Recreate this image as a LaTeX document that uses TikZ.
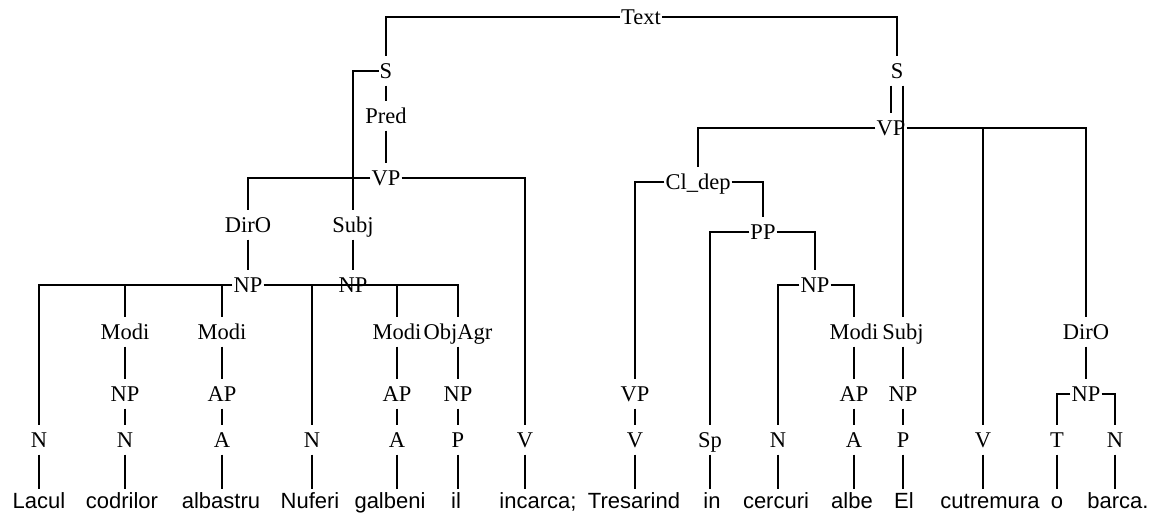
\documentclass[tikz,border=0pt]{standalone}
\usepackage{fontspec}
\newfontfamily\catfont{Liberation Serif}
\newfontfamily\wordfont{Liberation Sans}
\usepackage{tikz}
\tikzset{
	treecat/.style={font=\catfont\fontsize{22.5}{24}\selectfont,inner xsep=1pt,inner ysep=7pt,text height=15pt,text depth=0pt},
	treeword/.style={font=\wordfont\fontsize{22}{24}\selectfont,inner xsep=1pt,inner ysep=3pt,text height=16pt,text depth=0pt},
	treeedge/.style={draw=black,line width=1.2pt}
}
\begin{document}
\begin{tikzpicture}[x=1pt,y=-1pt]
	\useasboundingbox (0,0) rectangle (1153,516);
	\node[treecat] (t) at (641,17) {Text};
	\node[treecat] (sl) at (386,71) {S};
	\node[treecat] (sr) at (897,71) {S};
	\node[treecat] (pr) at (386,116) {Pred};
	\node[treecat] (vpl) at (386,178) {VP};
	\node[treecat] (dol) at (248,225) {DirO};
	\node[treecat] (sjl) at (353,225) {Subj};
	\node[treecat] (npa) at (248,285) {NP};
	\node[treecat] (npb) at (353,285) {NP};
	\node[treecat] (mda) at (125,332) {Modi};
	\node[treecat] (mdb) at (222,332) {Modi};
	\node[treecat] (mdc) at (397,332) {Modi};
	\node[treecat] (oa) at (458,332) {ObjAgr};
	\node[treecat] (npc) at (125,394) {NP};
	\node[treecat] (apa) at (222,394) {AP};
	\node[treecat] (apb) at (397,394) {AP};
	\node[treecat] (npd) at (458,394) {NP};
	\node[treecat] (na) at (39,440) {N};
	\node[treecat] (nb) at (125,440) {N};
	\node[treecat] (aa) at (222,440) {A};
	\node[treecat] (nc) at (312,440) {N};
	\node[treecat] (ab) at (397,440) {A};
	\node[treecat] (pa) at (458,440) {P};
	\node[treecat] (va) at (525,440) {V};
	\node[treecat] (vpr) at (891,128) {VP};
	\node[treecat] (cd) at (698,182) {Cl\_dep};
	\node[treecat] (pp) at (763,232) {PP};
	\node[treecat] (npe) at (815,285) {NP};
	\node[treecat] (mdd) at (854,332) {Modi};
	\node[treecat] (sjr) at (903,332) {Subj};
	\node[treecat] (dor) at (1086,332) {DirO};
	\node[treecat] (vpt) at (635,394) {VP};
	\node[treecat] (apc) at (854,394) {AP};
	\node[treecat] (npf) at (903,394) {NP};
	\node[treecat] (npg) at (1086,394) {NP};
	\node[treecat] (vb) at (635,440) {V};
	\node[treecat] (sp) at (710,440) {Sp};
	\node[treecat] (nd) at (778,440) {N};
	\node[treecat] (ac) at (854,440) {A};
	\node[treecat] (pb) at (903,440) {P};
	\node[treecat] (vc) at (983,440) {V};
	\node[treecat] (ta) at (1057,440) {T};
	\node[treecat] (ne) at (1115,440) {N};
	\node[treeword] (wa) at (39,500) {Lacul};
	\node[treeword] (wb) at (122,500) {codrilor};
	\node[treeword] (wc) at (221,500) {albastru};
	\node[treeword] (wd) at (310,500) {Nuferi};
	\node[treeword] (we) at (390,500) {galbeni};
	\node[treeword] (wf) at (456,500) {il};
	\node[treeword] (wg) at (538,500) {incarca;};
	\node[treeword] (wh) at (634,500) {Tresarind};
	\node[treeword] (wi) at (712,500) {in};
	\node[treeword] (wj) at (776,500) {cercuri};
	\node[treeword] (wk) at (852,500) {albe};
	\node[treeword] (wl) at (904,500) {El};
	\node[treeword] (wm) at (990,500) {cutremura};
	\node[treeword] (wn) at (1057,500) {o};
	\node[treeword] (wo) at (1118,500) {barca.};
	\draw[treeedge] (t.west) -| (sl) (t.east) -| (sr);
	\draw[treeedge] (sl) -- (pr) (pr) -- (vpl) (sl.west) -| (sjl);
	\draw[treeedge] (vpl.west) -| (dol) (vpl.east) -| (va) (dol) -- (npa) (sjl) -- (npb);
	\draw[treeedge] (npa.west) -| (na) (npa.west) -| (mda) (npa.west) -| (mdb) (npa.east) -| (oa);
	\draw[treeedge] (npb.west) -| (nc) (npb.east) -| (mdc);
	\draw[treeedge] (mda) -- (npc) (npc) -- (nb) (mdb) -- (apa) (apa) -- (aa);
	\draw[treeedge] (mdc) -- (apb) (apb) -- (ab) (oa) -- (npd) (npd) -- (pa);
	\draw[treeedge] (sr.south -| vpr) -- (vpr) (sr.south -| sjr) -- (sjr);
	\draw[treeedge] (vpr.west) -| (cd) (vpr.east) -| (vc) (vpr.east) -| (dor);
	\draw[treeedge] (cd.west) -| (vpt) (cd.east) -| (pp) (vpt) -- (vb);
	\draw[treeedge] (pp.west) -| (sp) (pp.east) -| (npe);
	\draw[treeedge] (npe.west) -| (nd) (npe.east) -| (mdd) (mdd) -- (apc) (apc) -- (ac);
	\draw[treeedge] (sjr) -- (npf) (npf) -- (pb) (dor) -- (npg) (npg.west) -| (ta) (npg.east) -| (ne);
	\draw[treeedge] (na) -- (na |- wa.north) (nb) -- (nb |- wb.north) (aa) -- (aa |- wc.north)
		(nc) -- (nc |- wd.north) (ab) -- (ab |- we.north) (pa) -- (pa |- wf.north) (va) -- (va |- wg.north);
	\draw[treeedge] (vb) -- (vb |- wh.north) (sp) -- (sp |- wi.north) (nd) -- (nd |- wj.north)
		(ac) -- (ac |- wk.north) (pb) -- (pb |- wl.north) (vc) -- (vc |- wm.north)
		(ta) -- (ta |- wn.north) (ne) -- (ne |- wo.north);
\end{tikzpicture}
\end{document}
